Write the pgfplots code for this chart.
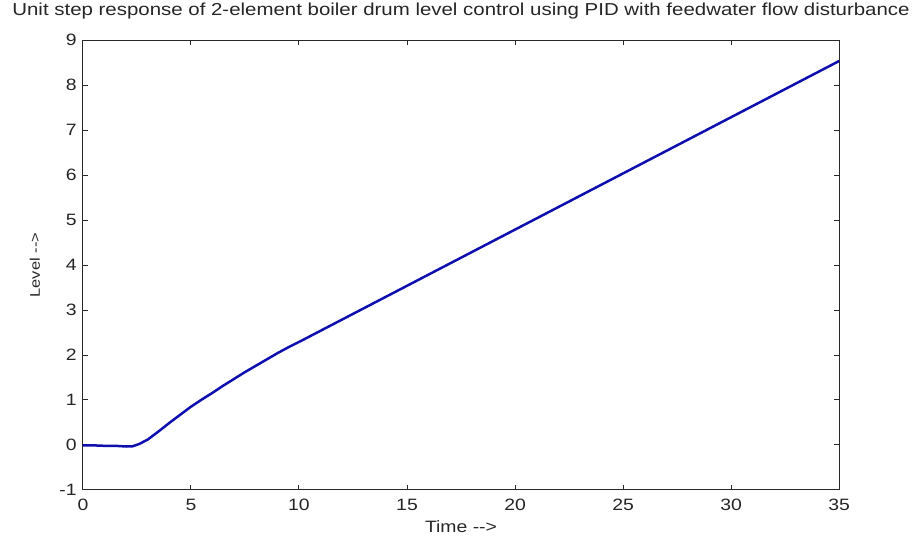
\documentclass[border=0pt]{standalone}
\usepackage{pgfplots}
\pgfplotsset{compat=1.18}
\usepackage{fontspec}
\setmainfont{Liberation Sans}
\newfontfamily\mfont[FakeStretch=1.18]{Liberation Sans}
\definecolor{mblue}{RGB}{15,15,175}
\definecolor{axgray}{RGB}{40,40,40}
\begin{document}
\begin{tikzpicture}
\begin{axis}[
  scale only axis,
  width=757bp, height=450bp,
  xmin=0, xmax=35, ymin=-1, ymax=9,
  xtick={0,5,...,35}, ytick={-1,0,...,9},
  tick align=inside,
  major tick length=5bp,
  axis line style={axgray, line width=1bp},
  every tick/.style={axgray, line width=1bp},
  /pgf/number format/assume math mode=true,
  tick label style={font=\mfont\fontsize{16.5}{18}\selectfont, text=black!85, inner sep=0pt},
  xticklabel style={anchor=north, yshift=-9bp},
  yticklabel style={anchor=east, xshift=-6bp},
  label style={font=\mfont\fontsize{16.5}{18}\selectfont, text=black!85},
  xlabel={Time -{}->},
  ylabel={Level -{}->},
  xlabel style={at={(axis description cs:0.5,0)}, anchor=center, yshift=-37bp},
  ylabel style={font=\mfont\fontsize{14}{16}\selectfont, at={(axis description cs:0,0.5)}, anchor=center, rotate=0, yshift=48bp},
  title={Unit step response of 2-element boiler drum level control using PID with feedwater flow disturbance},
  title style={font=\mfont\fontsize{17.4}{19}\selectfont, text=black!85, at={(axis description cs:0.5,1)}, anchor=center, yshift=23bp},
]
\addplot[mblue, line width=2.5bp] coordinates {
(0,-0.01) (0.5,-0.01) (1,-0.02) (1.5,-0.02) (2,-0.035) (2.3,-0.03) (2.6,0.02) (3,0.12) (3.5,0.3) (4,0.49) (4.5,0.67) (5,0.85) (5.5,1.01) (6,1.16) (6.5,1.32) (7,1.47) (7.5,1.62) (8,1.76) (8.5,1.9) (9,2.04) (9.5,2.17) (10,2.29) (11,2.54) (12,2.79) (13,3.04) (14,3.29) (15,3.54) (16,3.79) (17,4.04) (18,4.29) (19,4.54) (20,4.79) (21,5.04) (22,5.29) (23,5.54) (24,5.79) (25,6.04) (26,6.29) (27,6.54) (28,6.79) (29,7.04) (30,7.29) (31,7.54) (32,7.79) (33,8.04) (34,8.29) (35,8.54)
};
\end{axis}
\path[use as bounding box] ([shift={(-83bp,-48bp)}]current axis.south west) rectangle ([shift={(73bp,33bp)}]current axis.north east);
\end{tikzpicture}
\end{document}
